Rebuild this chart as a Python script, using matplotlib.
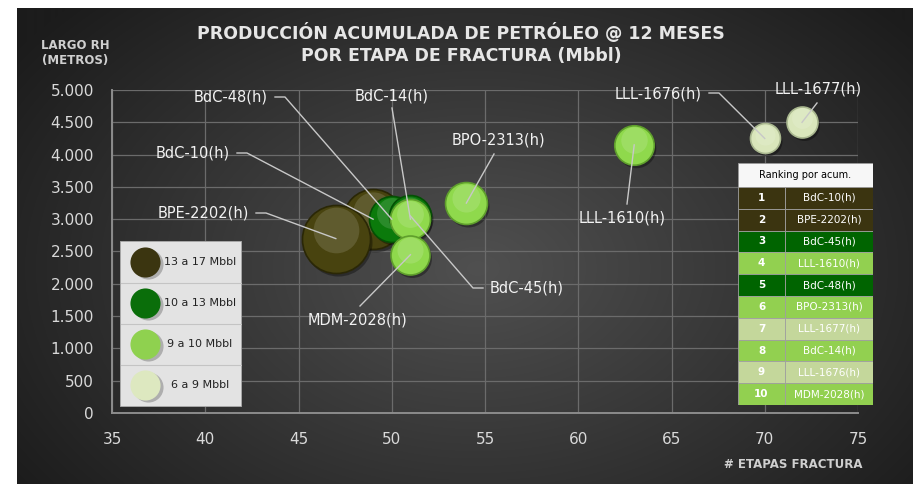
import numpy as np
import matplotlib
matplotlib.use("Agg")
import matplotlib.pyplot as plt
from matplotlib.patches import Rectangle
from matplotlib.transforms import IdentityTransform, ScaledTranslation

# datos de los pozos
pozos = ['BdC-10(h)', 'BPE-2202(h)', 'BdC-48(h)', 'BdC-45(h)', 'BdC-14(h)',
         'MDM-2028(h)', 'BPO-2313(h)', 'LLL-1610(h)', 'LLL-1676(h)', 'LLL-1677(h)']
etapas = [49, 47, 50, 51, 51, 51, 54, 63, 70, 72]
largo_rh = [3000, 2700, 3000, 3050, 3000, 2450, 3250, 4150, 4250, 4500]
burbuja = [900, 1160, 530, 440, 400, 380, 440, 390, 225, 240]
grupo = [0, 0, 1, 1, 2, 2, 2, 2, 3, 3]

rangos = ['13 a 17 Mbbl', '10 a 13 Mbbl', '9 a 10 Mbbl', '6 a 9 Mbbl']
ranking = ['BdC-10(h)', 'BPE-2202(h)', 'BdC-45(h)', 'LLL-1610(h)', 'BdC-48(h)',
           'BPO-2313(h)', 'LLL-1677(h)', 'BdC-14(h)', 'LLL-1676(h)', 'MDM-2028(h)']

colores = ['#48430f', '#0b7a0b', '#8fd94c', '#d9e6bb']
bordes = ['#2a2706', '#045004', '#5f9f2c', '#a9b78f']
leg_col = ['#3b3510', '#0a6e0a', '#8fd14f', '#dde8c0']
tabla_col = {'BdC-10(h)': '#3b3410', 'BPE-2202(h)': '#3b3410', 'BdC-45(h)': '#006400',
             'BdC-48(h)': '#006400', 'LLL-1610(h)': '#92d050', 'BPO-2313(h)': '#92d050',
             'BdC-14(h)': '#92d050', 'MDM-2028(h)': '#92d050',
             'LLL-1677(h)': '#c4d79b', 'LLL-1676(h)': '#c4d79b'}

# posiciones de las etiquetas (px de la imagen): texto, alineacion, puntos de la linea
etiquetas = {
    'BdC-48(h)':   ((268, 97), 'right', [(275, 97), (285, 97)]),
    'BdC-10(h)':   ((230, 153), 'right', [(237, 153), (247, 153)]),
    'BPE-2202(h)': ((249, 213), 'right', [(256, 213), (266, 213)]),
    'BdC-14(h)':   ((392, 96), 'center', [(392, 108)]),
    'BPO-2313(h)': ((498, 140), 'center', [(494, 154)]),
    'LLL-1610(h)': ((622, 218), 'center', [(627, 204)]),
    'LLL-1676(h)': ((702, 94), 'right', [(709, 93), (719, 93)]),
    'LLL-1677(h)': ((818, 89), 'center', [(817, 103)]),
    'BdC-45(h)':   ((490, 288), 'left', [(483, 288), (473, 288)]),
    'MDM-2028(h)': ((357, 320), 'center', [(360, 306)]),
}

W, H = 922, 484
fig = plt.figure(figsize=(W / 100, H / 100), dpi=100)
fig.patch.set_facecolor('white')

def fpos(x0, y0, x1, y1):
    return [x0 / W, 1 - y1 / H, (x1 - x0) / W, (y1 - y0) / H]

# fondo con degradado radial
bg = fig.add_axes(fpos(17, 8, 912, 484), zorder=-10)
yy, xx = np.mgrid[0:476, 0:895]
d = np.sqrt(((xx - 460) / 560.0) ** 2 + ((yy - 260) / 380.0) ** 2)
d = np.clip(d, 0, 1)
c0 = np.array([0x50, 0x50, 0x50]) / 255
c1 = np.array([0x1c, 0x1c, 0x1c]) / 255
img = c0[None, None, :] * (1 - d[..., None]) + c1[None, None, :] * d[..., None]
bg.imshow(img, aspect='auto', extent=[0, 1, 0, 1])
bg.axis('off')

ax = fig.add_axes(fpos(112, 90, 858, 413))
ax.set_facecolor('none')
ax.set_xlim(35, 75)
ax.set_ylim(0, 5000)
ax.set_xticks(np.arange(35, 76, 5))
ax.set_yticks(np.arange(0, 5001, 500))
ax.set_yticklabels([f"{v:,.0f}".replace(',', '.') for v in np.arange(0, 5001, 500)])
ax.grid(True, color='#6b6b6b', lw=0.9)
ax.set_axisbelow(True)
for s in ['top', 'right']:
    ax.spines[s].set_visible(False)
for s in ['left', 'bottom']:
    ax.spines[s].set_color('#8c8c8c')
    ax.spines[s].set_linewidth(1.4)
ax.tick_params(length=0, colors='#d9d9d9', labelsize=11)
ax.tick_params(axis='x', pad=14)
ax.tick_params(axis='y', pad=13)

# burbujas
orden = [0, 1, 2, 3, 4, 5, 6, 7, 8, 9]
for z, i in enumerate(orden):
    s = burbuja[i] * 2.07
    r = np.sqrt(burbuja[i])
    sh = ax.transData + ScaledTranslation(2 / 100, -3 / 100, fig.dpi_scale_trans)
    ax.scatter(etapas[i], largo_rh[i], s=s, color='black', alpha=0.35, lw=0,
               transform=sh, zorder=3 + z * 0.1)
    ax.scatter(etapas[i], largo_rh[i], s=s, color=colores[grupo[i]],
               edgecolors=bordes[grupo[i]], lw=1.2, zorder=3 + z * 0.1 + 0.01)
    hl = ax.transData + ScaledTranslation(0, r * 0.25 / 100, fig.dpi_scale_trans)
    ax.scatter(etapas[i], largo_rh[i], s=s * 0.45, color='white', alpha=0.13, lw=0,
               transform=hl, zorder=3 + z * 0.1 + 0.02)

# etiquetas con lineas guia
fig.canvas.draw()
for i, p in enumerate(pozos):
    (tx, ty), ha, pts = etiquetas[p]
    bx, by = ax.transData.transform((etapas[i], largo_rh[i]))
    xs = [q[0] for q in pts] + [bx]
    ys = [H - q[1] for q in pts] + [by]
    fig.add_artist(plt.Line2D(xs, ys, transform=IdentityTransform(), color='#c8c8c8',
                              lw=1.0, zorder=20))
    fig.text(tx / W, 1 - ty / H, p, ha=ha, va='center', color='#f2f2f2',
             fontsize=10.5, zorder=21)

# titulos
fig.text(461 / W, 1 - 33 / H, 'PRODUCCIÓN ACUMULADA DE PETRÓLEO @ 12 MESES',
         ha='center', va='center', color='#e6e6e6', fontsize=12.5, fontweight='bold')
fig.text(461 / W, 1 - 56 / H, 'POR ETAPA DE FRACTURA (Mbbl)',
         ha='center', va='center', color='#e6e6e6', fontsize=12.5, fontweight='bold')
fig.text(75 / W, 1 - 53 / H, 'LARGO RH\n(METROS)', ha='center', va='center',
         color='#cfcfcf', fontsize=8.5, fontweight='bold', linespacing=1.2)
fig.text(793 / W, 1 - 465 / H, '# ETAPAS FRACTURA', ha='center', va='center',
         color='#cfcfcf', fontsize=8.5, fontweight='bold')

# leyenda de rangos
lg = fig.add_axes(fpos(120, 241, 242, 407), zorder=30)
lg.set_xlim(0, 122)
lg.set_ylim(166, 0)
lg.axis('off')
lg.add_patch(Rectangle((0, 0), 122, 166, facecolor='#e3e3e3', edgecolor='#9a9a9a', lw=1.2))
for k, txt in enumerate(rangos):
    yc = 21 + k * 41
    if k > 0:
        lg.plot([1, 121], [yc - 20.5, yc - 20.5], color='#c4c4c4', lw=0.8)
    lg.scatter(28, yc + 2, s=470, color='#7a7a7a', alpha=0.5, lw=0)
    lg.scatter(25, yc, s=470, color=leg_col[k], lw=0)
    lg.text(80, yc, txt, ha='center', va='center', fontsize=8, color='#222222')

# tabla de ranking
tb = fig.add_axes(fpos(738, 163, 873, 405), zorder=30)
tb.set_xlim(0, 135)
tb.set_ylim(242, 0)
tb.axis('off')
tb.add_patch(Rectangle((0, 0), 135, 24, facecolor='#f7f7f7', edgecolor='#9a9a9a', lw=0.6))
tb.text(67.5, 12, 'Ranking por acum.', ha='center', va='center', fontsize=7, color='black')
rh = (242 - 24) / 10
for k, p in enumerate(ranking):
    y0 = 24 + k * rh
    c = tabla_col[p]
    tb.add_patch(Rectangle((0, y0), 47, rh, facecolor=c, edgecolor='#a0a0a0', lw=0.6))
    tb.add_patch(Rectangle((47, y0), 88, rh, facecolor=c, edgecolor='#a0a0a0', lw=0.6))
    tb.text(23.5, y0 + rh / 2, str(k + 1), ha='center', va='center', fontsize=7.5,
            color='white', fontweight='bold')
    tb.text(91, y0 + rh / 2, p, ha='center', va='center', fontsize=7.5, color='white')

fig.savefig('out.png', dpi=100)
